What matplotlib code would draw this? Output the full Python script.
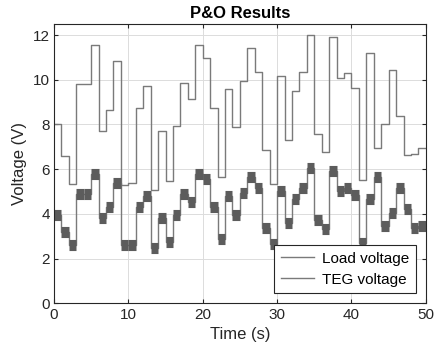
import numpy as np
import matplotlib
matplotlib.use('Agg')
import matplotlib.pyplot as plt

plt.rcParams['font.family'] = ['Liberation Sans', 'DejaVu Sans']

# step start times (s), one value per 1 s step
time_s = np.arange(0, 50)

load_v = [8.0, 6.57, 5.34, 9.82, 9.82, 11.57, 7.72, 8.66, 10.84, 5.3,
          5.4, 8.73, 9.70, 5.07, 7.69, 5.48, 7.94, 9.85, 9.13, 11.57,
          10.97, 8.73, 5.67, 9.60, 7.91, 9.96, 11.4, 10.37, 6.84, 5.34,
          10.15, 7.31, 9.48, 10.34, 12.0, 7.58, 6.76, 11.91, 10.10, 10.30,
          9.63, 5.52, 11.22, 6.94, 8.03, 10.42, 8.36, 6.64, 6.7, 6.97]

teg_v = [3.96, 3.21, 2.61, 4.91, 4.91, 5.78, 3.84, 4.31, 5.40, 2.62,
         2.62, 4.30, 4.78, 2.49, 3.84, 2.73, 3.96, 4.90, 4.55, 5.78,
         5.58, 4.33, 2.88, 4.78, 3.96, 4.93, 5.64, 5.15, 3.36, 2.64,
         5.04, 3.58, 4.67, 5.15, 6.04, 3.73, 3.33, 5.90, 5.04, 5.15,
         4.85, 2.72, 4.67, 5.67, 3.46, 4.06, 5.15, 4.21, 3.36, 3.46]

t_edges = np.append(time_s, time_s[-1] + 1)
load_s = np.append(load_v, load_v[-1])
teg_s = np.append(teg_v, teg_v[-1])

fig = plt.figure(figsize=(4.35, 3.62), dpi=100)
ax = fig.add_axes([0.124, 0.162, 0.855, 0.772])

ax.step(t_edges, load_s, where='post', color='#7a7a7a', lw=1.0, label='Load voltage')
ax.step(t_edges, teg_s, where='post', color='#7a7a7a', lw=1.0, label='TEG voltage')
# the TEG signal dithers inside each step -> thick band
ax.hlines(teg_v, time_s, time_s + 1, colors='#5c5c5c', lw=8, capstyle='butt')

ax.set_xlim(0, 50)
ax.set_ylim(0, 12.5)
ax.set_xticks(np.arange(0, 51, 10))
ax.set_yticks(np.arange(0, 13, 2))
ax.grid(True, color='#dcdcdc', lw=0.7)
ax.set_axisbelow(True)
ax.tick_params(direction='in', top=True, right=True, length=3, labelsize=11,
               colors='#262626', pad=3)
for s in ax.spines.values():
    s.set_color('#262626')
    s.set_linewidth(0.8)

ax.set_xlabel('Time (s)', fontsize=12, color='#262626')
ax.set_ylabel('Voltage (V)', fontsize=12, color='#262626')
ax.set_title('P&O Results', fontsize=12, fontweight='bold', color='#000000', pad=4)

leg = ax.legend(loc='lower right', fontsize=11, fancybox=False, framealpha=1,
                edgecolor='#262626', handlelength=2.2, handletextpad=0.5,
                borderpad=0.45, labelspacing=0.45, borderaxespad=0.65)
leg.get_frame().set_linewidth(0.8)

fig.savefig('out.png', dpi=100)
